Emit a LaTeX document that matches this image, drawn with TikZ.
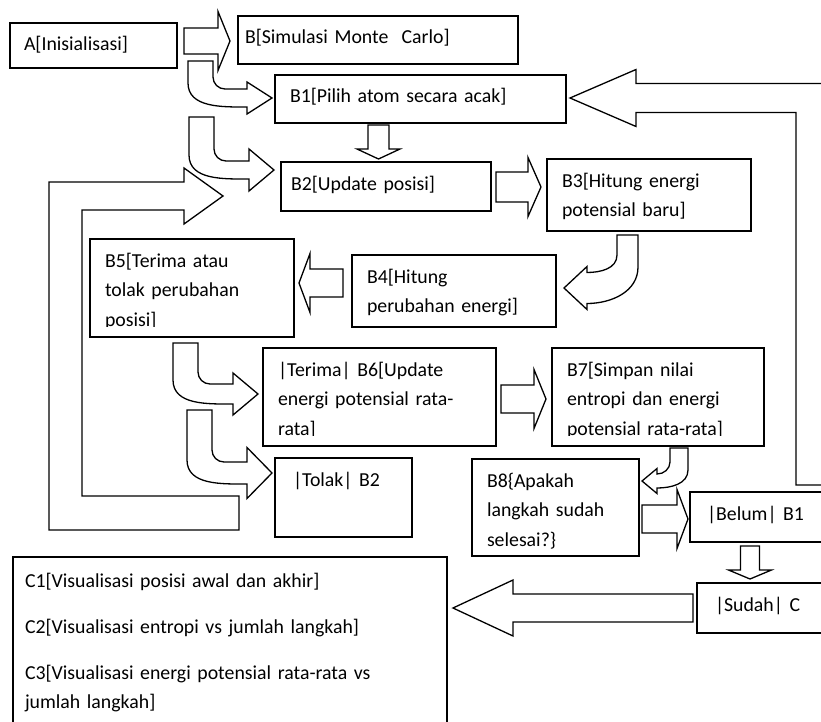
\documentclass[tikz,border=0pt]{standalone}
\usepackage{fontspec}
\setmainfont{Carlito}
\usetikzlibrary{calc}

\tikzset{
	box/.style={draw, line width=1.3pt, anchor=north west, outer sep=0pt, align=left,
		inner xsep=15pt, inner ysep=0pt, text height=28pt,
		font=\fontsize{19.8pt}{29.5pt}\selectfont},
	blockarrow/.style={draw, line width=1.3pt, line join=miter}
}

% tail, tip, half shaft, half head, head length
\newcommand{\rightblock}[5]{%
	\draw[blockarrow] let \p1=(#1), \p2=(#2) in
		(\x1,\y2+#3pt) -- (\x2-#5pt,\y2+#3pt) -- (\x2-#5pt,\y2+#4pt) -- (\x2,\y2)
		-- (\x2-#5pt,\y2-#4pt) -- (\x2-#5pt,\y2-#3pt) -- (\x1,\y2-#3pt) -- cycle;}
\newcommand{\leftblock}[5]{%
	\draw[blockarrow] let \p1=(#1), \p2=(#2) in
		(\x1,\y2+#3pt) -- (\x2+#5pt,\y2+#3pt) -- (\x2+#5pt,\y2+#4pt) -- (\x2,\y2)
		-- (\x2+#5pt,\y2-#4pt) -- (\x2+#5pt,\y2-#3pt) -- (\x1,\y2-#3pt) -- cycle;}
\newcommand{\downblock}[5]{%
	\draw[blockarrow] let \p1=(#1), \p2=(#2) in
		(\x2-#3pt,\y1) -- (\x2-#3pt,\y2+#5pt) -- (\x2-#4pt,\y2+#5pt) -- (\x2,\y2)
		-- (\x2+#4pt,\y2+#5pt) -- (\x2+#3pt,\y2+#5pt) -- (\x2+#3pt,\y1) -- cycle;}

% tail (top left), tip, half shaft, half head
\newcommand{\curveright}[4]{%
	\draw[blockarrow] let \p1=(#1), \p2=(#2) in
		(\x1,\y1) -- (\x1+25pt,\y1) -- (\x1+25pt,\y2+#3pt+12pt)
		to[out=-90,in=180] (\x1+37pt,\y2+#3pt) -- (\x2-25pt,\y2+#3pt)
		-- (\x2-25pt,\y2+#4pt) -- (\x2,\y2) -- (\x2-25pt,\y2-#4pt) -- (\x2-25pt,\y2-#3pt)
		to[out=180,in=-90] (\x1,\y2-#3pt+24pt) -- cycle;}

% tail (top left), tip, tail width, half shaft, half head, head length, inner drop, outer drop
\newcommand{\curveleft}[8]{%
	\draw[blockarrow] let \p1=(#1), \p2=(#2) in
		(\x1,\y1) -- (\x1+#3pt,\y1) -- (\x1+#3pt,\y2-#4pt+#8pt)
		to[out=-90,in=0] (\x2+#6pt,\y2-#4pt) -- (\x2+#6pt,\y2-#5pt) -- (\x2,\y2)
		-- (\x2+#6pt,\y2+#5pt) -- (\x2+#6pt,\y2+#4pt)
		to[out=0,in=-90] (\x1,\y2+#4pt+#7pt) -- cycle;}

\begin{document}
\begin{tikzpicture}[x=1pt, y=-1pt]
	\useasboundingbox (0,0) rectangle (821,722);
	\clip (0,0) rectangle (821,722);
	
	\node[box, inner xsep=14pt, text width=139pt, text depth=17pt] (a) at (10,23) {A[Inisialisasi]};
	\node[box, inner xsep=7pt, text width=266pt, text depth=20pt] (b) at (238,16) {B[Simulasi Monte\ \ Carlo]};
	\node[box, text width=261pt, text depth=20pt] (b1) at (275,75) {B1[Pilih atom secara acak]};
	\node[box, inner xsep=10pt, text width=190pt, text depth=21pt] (b2) at (281,162) {B2[Update posisi]};
	\node[box, text width=174pt, text depth=44pt] (b3) at (547,159) {B3[Hitung energi\\potensial baru]};
	\node[box, text width=174pt, text depth=44pt] (b4) at (352,255) {B4[Hitung\\perubahan energi]};
	\node[box, text width=174pt, text depth=70pt] (b5) at (90,239) {B5[Terima atau\\tolak perubahan\\posisi]};
	\node[box, text width=203pt, text depth=70pt] (b6) at (263,348) {|Terima| B6[Update\\energi potensial rata-\\rata]};
	\node[box, text width=182pt, text depth=70pt] (b7) at (552,348) {B7[Simpan nilai\\entropi dan energi\\potensial rata-rata]};
	\node[box, inner xsep=18pt, text width=101pt, text depth=51pt] (tolak) at (275,458) {|Tolak| B2};
	\node[box, text width=137pt, text depth=69pt] (b8) at (472,459) {B8\{Apakah\\langkah sudah\\selesai?\}};
	\node[box, inner xsep=17pt, text width=116pt, text depth=22pt] (belum) at (690,492) {|Belum| B1};
	\node[box, inner xsep=18pt, text width=107pt, text depth=22pt] (sudah) at (697,583) {|Sudah| C};
	\node[box, inner xsep=12pt, text width=410pt, text height=30pt, text depth=150pt] (c) at (13,557)
		{C1[Visualisasi posisi awal dan akhir]\\[16.5pt]C2[Visualisasi entropi vs jumlah langkah]\\[16.5pt]C3[Visualisasi energi potensial rata-rata vs\\jumlah langkah]};
	
	\foreach \n in {b5,b6,b7}
		\fill[white] ($(\n.south west)+(0.7,-10)$) rectangle ($(\n.south east)+(-0.7,-0.7)$);
	
	\rightblock{$(a.east)+(7,0)$}{$(b.west)+(-8,1)$}{13}{29.5}{12}
	\downblock{$(b1.south)+(0,2)$}{$(b2.north)+(-7.5,-3)$}{10.5}{21.5}{10}
	\rightblock{$(b2.east)+(5,0)$}{$(b3.west)+(-6,-8)$}{15}{29.5}{13}
	\leftblock{$(b4.west)+(-9,0)$}{$(b5.east)+(5,-5)$}{14}{29.5}{11}
	\rightblock{$(b6.east)+(5,0)$}{$(b7.west)+(-6,2)$}{14}{29.5}{12}
	\rightblock{$(b8.east)+(3,0)$}{$(belum.west)+(-2,2)$}{14}{29.5}{11}
	\downblock{$(belum.south)+(0,4)$}{$(sudah.north)+(-18.5,-4)$}{9.5}{21.5}{9}
	\leftblock{$(sudah.west)+(-4,0)$}{$(c.east)+(6,-39)$}{14}{28}{60}
	
	\curveright{$(a.south east)+(11,-7)$}{$(b1.west)+(-3,-1)$}{9}{16}
	\curveright{$(a.south east)+(12,49)$}{$(b2.west)+(-7,-16.5)$}{9}{21}
	\curveright{$(b5.south)+(-19,6)$}{$(b6.west)+(-5,-3)$}{10}{21}
	\curveright{$(b5.south)+(-5,73)$}{$(tolak.west)+(-3,-24.5)$}{11}{25.5}
	\curveleft{$(b3.south)+(-32,4)$}{$(b4.east)+(8,-3)$}{21}{15.5}{21.5}{23}{17.5}{36.5}
	\curveleft{$(b7.south)+(12,2)$}{$(b8.east)+(3,-26.5)$}{18}{7}{12.5}{15}{12}{18}
	
	\draw[blockarrow] let \p1=($(tolak.west)+(-36,15.5)$), \p2=($(b2.west)+(-58,9.5)$) in
		(\x1,\y1-17pt) -- (\x1-190pt,\y1-17pt) -- (\x1-190pt,\y2+14pt) -- (\x2-39pt,\y2+14pt)
		-- (\x2-39pt,\y2+28pt) -- (\x2,\y2) -- (\x2-39pt,\y2-28pt) -- (\x2-39pt,\y2-14pt)
		-- (\x1-157pt,\y2-14pt) -- (\x1-157pt,\y1+17pt) -- (\x1,\y1+17pt) -- cycle;
	
	\draw[blockarrow] let \p1=($(belum.north)+(31,-7)$), \p2=($(b1.east)+(4,-1)$) in
		(\x1,\y1) -- (\x1,\y2-14.5pt) -- (\x2+66pt,\y2-14.5pt) -- (\x2+66pt,\y2-28.5pt)
		-- (\x2,\y2) -- (\x2+66pt,\y2+28.5pt) -- (\x2+66pt,\y2+14.5pt)
		-- (\x1+29pt,\y2+14.5pt) -- (\x1+29pt,\y1) -- cycle;
	
\end{tikzpicture}
\end{document}
